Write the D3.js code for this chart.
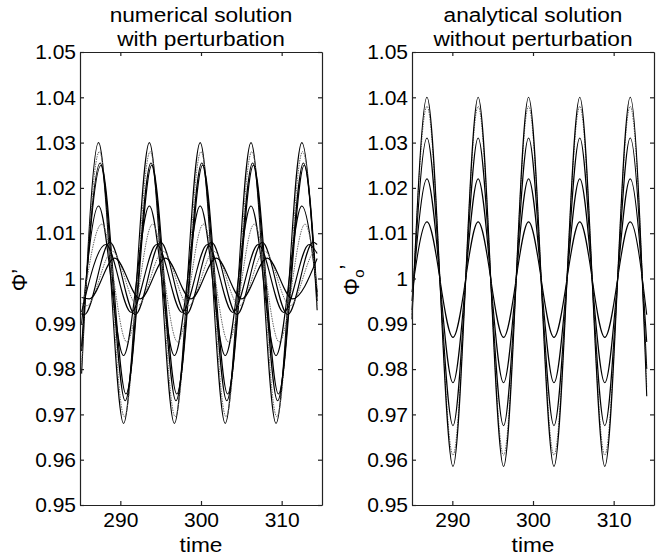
<!DOCTYPE html>
<html>
<head>
<meta charset="utf-8">
<script src="https://cdn.jsdelivr.net/npm/d3@7"></script>
<style>
  body { margin: 0; background: #fff; }
  text { font-family: "Liberation Sans", Arial, Helvetica, sans-serif; fill: #000; }
</style>
</head>
<body>
<svg id="chart" width="662" height="559"></svg>
<script>
// ticks shared by both panels
const xTicks = [290, 300, 310];
const xTickLabels = ['290', '300', '310'];
const yTicks = [0.95, 0.96, 0.97, 0.98, 0.99, 1, 1.01, 1.02, 1.03, 1.04, 1.05];
const yTickLabels = ['0.95', '0.96', '0.97', '0.98', '0.99', '1', '1.01', '1.02', '1.03', '1.04', '1.05'];

// left panel, large oscillations: edge, peak, trough, peak ... edge (times)
const numBigTimes = [285.2, 287.3, 290.4, 293.6, 296.7, 299.9, 303.0, 306.2, 309.3, 312.5, 314.4];
const numBigHigh  = [1.030, 1.028, 1.0255, 1.025, 1.016, 1.012];
const numBigLow   = [0.968, 0.9695, 0.973, 0.9745, 0.983, 0.986];
const numBigShift = [0, 0.1, 0.2, 0.3, 0, 0.4];
const numBigStart = [0.979, 0.981, 0.984, 0.985, 0.990, 0.992];
const numBigEnd   = [0.993, 0.994, 0.995, 0.996, 0.997, 0.998];
const numBigDotted = [false, true, false, false, false, true];

// left panel, small oscillations: edge, trough, peak, trough ... edge
const numSmallTimes = [285.2, 285.55, 288.7, 291.85, 295.0, 298.15, 301.3, 304.45, 307.6, 310.75, 313.9, 314.4];
const numSmallHigh  = [1.008, 1.0075, 1.006, 1.0045];
const numSmallLow   = [0.992, 0.9925, 0.994, 0.9955];
const numSmallShift = [0, -0.5, 0.3, 0.6];
const numSmallStart = [0.9922, 0.9926, 0.9945, 0.9958];
const numSmallEnd   = [1.0075, 1.0055, 1.0059, 1.0044];
const numSmallDotted = [false, false, true, false];

// right panel: edge, peak, trough ... edge
const anaTimes = [285.0, 286.86, 290.08, 293.2, 296.35, 299.45, 302.6, 305.8, 308.9, 312.05, 314.1];
const anaHigh  = [1.0125, 1.022, 1.031, 1.038, 1.040];
const anaLow   = [0.987, 0.977, 0.9675, 0.961, 0.9585];
const anaStart = [0.997, 0.995, 0.993, 0.992, 0.991];
const anaEnd   = [0.992, 0.986, 0.980, 0.976, 0.974];
const anaDotted = [false, false, false, true, false];

// turn one group of readings into point lists
function buildCurves(times, high, low, shift, start, end, dotted, firstIsPeak) {
    let curves = [];
    let t0 = times[0], t1 = times[times.length - 1];
    for (let c = 0; c < high.length; c++) {
        let pts = [[t0, start[c]]];
        for (let i = 1; i < times.length - 1; i++) {
            let isPeak = ((i - 1) % 2 === 0) === firstIsPeak;
            let t = times[i] + (shift ? shift[c] : 0);
            if (t <= t0 || t >= t1) continue;
            pts.push([t, isPeak ? high[c] : low[c]]);
        }
        pts.push([t1, end[c]]);
        curves.push({points: pts, dotted: dotted[c]});
    }
    return curves;
}

const leftCurves = buildCurves(numBigTimes, numBigHigh, numBigLow, numBigShift, numBigStart, numBigEnd, numBigDotted, true)
    .concat(buildCurves(numSmallTimes, numSmallHigh, numSmallLow, numSmallShift, numSmallStart, numSmallEnd, numSmallDotted, false));
const rightCurves = buildCurves(anaTimes, anaHigh, anaLow, null, anaStart, anaEnd, anaDotted, true);

const svg = d3.select('#chart');
const plotTop = 52, plotBottom = 505, plotW = 242;

// text a bit wider than Liberation Sans, like the original Helvetica print
function wideText(g, x, y, size, str) {
    return g.append('text')
        .attr('transform', 'translate(' + x + ',' + y + ') scale(1.08,1)')
        .attr('text-anchor', 'middle')
        .attr('font-size', size)
        .text(str);
}

function drawPanel(left, curves, title1, title2, ylabel) {
    let x = d3.scaleLinear().domain([285, 315]).range([left, left + plotW]);
    let y = d3.scaleLinear().domain([0.95, 1.05]).range([plotBottom, plotTop]);
    let g = svg.append('g');

    let line = d3.line()
        .x(d => x(d[0]))
        .y(d => y(d[1]))
        .curve(d3.curveMonotoneX);

    g.selectAll('path.curve')
        .data(curves)
        .join('path')
        .attr('class', 'curve')
        .attr('d', d => line(d.points))
        .attr('fill', 'none')
        .attr('stroke', d => d.dotted ? '#666' : '#000')
        .attr('stroke-width', d => d.dotted ? 1 : 1.1)
        .attr('stroke-dasharray', d => d.dotted ? '1.5,1' : null);

    // axes, MATLAB style: ticks inside on all four sides
    g.append('g').attr('transform', 'translate(0,' + plotBottom + ')')
        .call(d3.axisBottom(x).tickValues(xTicks).tickFormat((d, i) => xTickLabels[i]).tickSize(-4).tickSizeOuter(0).tickPadding(7));
    g.append('g').attr('transform', 'translate(' + left + ',0)')
        .call(d3.axisLeft(y).tickValues(yTicks).tickFormat((d, i) => yTickLabels[i]).tickSize(-4).tickSizeOuter(0).tickPadding(4));
    g.append('g').attr('transform', 'translate(0,' + plotTop + ')')
        .call(d3.axisTop(x).tickValues(xTicks).tickFormat('').tickSize(-4).tickSizeOuter(0));
    g.append('g').attr('transform', 'translate(' + (left + plotW) + ',0)')
        .call(d3.axisRight(y).tickValues(yTicks).tickFormat('').tickSize(-4).tickSizeOuter(0));
    g.selectAll('.domain, .tick line').attr('stroke', '#222').attr('stroke-width', 1.2);
    g.selectAll('.tick text')
        .attr('font-family', '"Liberation Sans", Arial, sans-serif')
        .attr('font-size', 21)
        .attr('fill', '#000');

    let cx = left + plotW / 2;
    wideText(g, cx, 22, 21, title1);
    wideText(g, cx, 46, 21, title2);
    wideText(g, cx, 552, 21, 'time');

    let yl = g.append('text')
        .attr('transform', 'translate(' + (left - 53) + ',' + 280 + ') rotate(-90)')
        .attr('text-anchor', 'middle')
        .attr('font-size', 22);
    yl.append('tspan').text('Φ');
    if (ylabel.sub) {
        yl.append('tspan').attr('font-size', 15).attr('dy', 5).text(ylabel.sub);
        yl.append('tspan').attr('dy', -9).text('\u2019');
    } else {
        yl.append('tspan').text('\u2019');
    }
}

drawPanel(80, leftCurves, 'numerical solution', 'with perturbation', {});
drawPanel(412, rightCurves, 'analytical solution', 'without perturbation', {sub: 'o'});
</script>
</body>
</html>
